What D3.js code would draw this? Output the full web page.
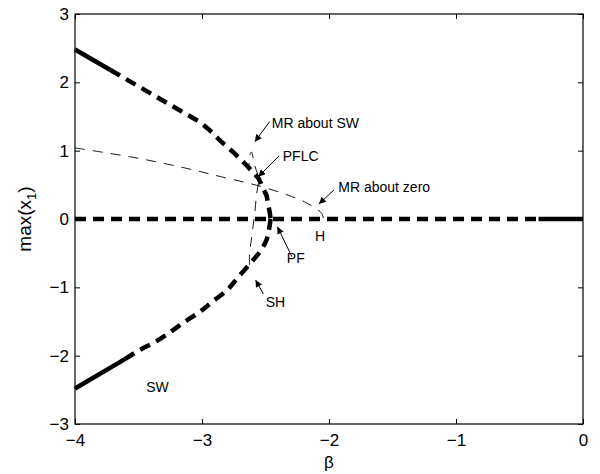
<!DOCTYPE html>
<html>
<head>
<meta charset="utf-8">
<script src="https://cdn.jsdelivr.net/npm/d3@7"></script>
<style>
  body { margin: 0; background: #fff; }
  svg text { font-family: "Liberation Sans", Arial, sans-serif; fill: #000; }
</style>
</head>
<body>
<div id="chart"></div>
<script>
// bifurcation branches, [beta, max(x1)]
var swUpperSolid = [[-4, 2.48], [-3.721, 2.18]];
var swUpperDashed = [[-3.721, 2.18], [-3.018, 1.42], [-2.946, 1.31], [-2.853, 1.14], [-2.750, 0.97],
                     [-2.646, 0.78], [-2.553, 0.59], [-2.491, 0.34], [-2.466, 0.09], [-2.460, 0]];
var swLowerSolid = [[-4, -2.48], [-3.607, -2.05]];
var swLowerDashed = [[-3.607, -2.05], [-3.494, -1.92], [-3.370, -1.80], [-3.246, -1.65], [-3.132, -1.50],
                     [-3.018, -1.36], [-2.925, -1.22], [-2.791, -1.02], [-2.719, -0.86], [-2.615, -0.64],
                     [-2.533, -0.45], [-2.491, -0.30], [-2.471, -0.14], [-2.460, 0]];
var zeroDashed = [[-4, 0], [-0.35, 0]];
var zeroSolid = [[-0.35, 0], [0, 0]];
var mrZero = [[-4, 1.04], [-3.535, 0.9], [-3.142, 0.75], [-2.853, 0.62], [-2.543, 0.48], [-2.295, 0.33],
              [-2.192, 0.25], [-2.099, 0.15], [-2.057, 0.08], [-2.042, 0]];
var mrSW = [[-2.626, -0.67], [-2.626, -0.51], [-2.610, -0.28], [-2.584, 0.10], [-2.569, 0.38], [-2.553, 0.59],
            [-2.574, 0.72], [-2.590, 0.82], [-2.600, 0.92], [-2.610, 0.98], [-2.621, 0.95],
            [-2.628, 0.85], [-2.631, 0.75]];

var xTicks = [-4, -3, -2, -1, 0];
var yTicks = [-3, -2, -1, 0, 1, 2, 3];

// labels: text, anchor point, arrow tail, arrow head (data units)
var notes = [
  { text: "MR about SW", at: [-2.45, 1.33], from: [-2.468, 1.424], to: [-2.584, 1.131] },
  { text: "PFLC", at: [-2.364, 0.849], from: [-2.393, 0.922], to: [-2.557, 0.619] },
  { text: "MR about zero", at: [-1.927, 0.402], from: [-1.961, 0.424], to: [-2.080, 0.219] },
  { text: "H", at: [-2.070, -0.322], mid: true },
  { text: "PF", at: [-2.332, -0.644], from: [-2.292, -0.552], to: [-2.406, -0.113] },
  { text: "SH", at: [-2.499, -1.281], from: [-2.517, -1.098], to: [-2.578, -0.893] },
  { text: "SW", at: [-3.439, -2.532] }
];

var svg = d3.select("#chart")
            .append("svg")
            .attr("width", 600)
            .attr("height", 474);

var x = d3.scaleLinear().domain([-4, 0]).range([75, 583]);
var y = d3.scaleLinear().domain([-3, 3]).range([424, 14]);

var line = d3.line()
             .x(d => x(d[0]))
             .y(d => y(d[1]));
var smooth = d3.line()
               .x(d => x(d[0]))
               .y(d => y(d[1]))
               .curve(d3.curveCatmullRom.alpha(0.5));

svg.append("defs").append("marker")
   .attr("id", "head")
   .attr("viewBox", "0 0 10 10")
   .attr("refX", 10)
   .attr("refY", 5)
   .attr("markerWidth", 9)
   .attr("markerHeight", 7)
   .attr("markerUnits", "userSpaceOnUse")
   .attr("orient", "auto")
   .append("path")
   .attr("d", "M0,0L10,5L0,10Z")
   .attr("fill", "#000");

// thin dashed curves
[mrZero, mrSW].forEach(function (d) {
  svg.append("path")
     .datum(d)
     .attr("fill", "none")
     .attr("stroke", "#000")
     .attr("stroke-width", 0.9)
     .attr("stroke-dasharray", "10,8")
     .attr("d", smooth);
});

// thick branches
[swUpperDashed, swLowerDashed, zeroDashed].forEach(function (d) {
  svg.append("path")
     .datum(d)
     .attr("fill", "none")
     .attr("stroke", "#000")
     .attr("stroke-width", 4.5)
     .attr("stroke-dasharray", "11,7")
     .attr("d", d === swUpperDashed ? line : smooth);
});

[swUpperSolid, swLowerSolid, zeroSolid].forEach(function (d) {
  svg.append("path")
     .datum(d)
     .attr("fill", "none")
     .attr("stroke", "#000")
     .attr("stroke-width", 4.5)
     .attr("d", line);
});

// frame + ticks
svg.append("rect")
   .attr("x", x(-4)).attr("y", y(3))
   .attr("width", x(0) - x(-4)).attr("height", y(-3) - y(3))
   .attr("fill", "none").attr("stroke", "#000").attr("stroke-width", 1.2);

svg.append("g")
   .attr("transform", `translate(0, ${y(-3)})`)
   .call(d3.axisBottom(x).tickValues(xTicks).tickSize(-5).tickPadding(10)
           .tickFormat(d => d < 0 ? "\u2212" + Math.abs(d) : d))
   .call(g => g.select(".domain").remove())
   .call(g => g.selectAll("text").attr("font-size", 17).attr("font-family", null));

svg.append("g")
   .attr("transform", `translate(0, ${y(3)})`)
   .call(d3.axisTop(x).tickValues(xTicks).tickSize(-5).tickFormat(""))
   .call(g => g.select(".domain").remove());

svg.append("g")
   .attr("transform", `translate(${x(-4)}, 0)`)
   .call(d3.axisLeft(y).tickValues(yTicks).tickSize(-5).tickPadding(6)
           .tickFormat(d => d < 0 ? "\u2212" + Math.abs(d) : d))
   .call(g => g.select(".domain").remove())
   .call(g => g.selectAll("text").attr("font-size", 17).attr("font-family", null));

svg.append("g")
   .attr("transform", `translate(${x(0)}, 0)`)
   .call(d3.axisRight(y).tickValues(yTicks).tickSize(-5).tickFormat(""))
   .call(g => g.select(".domain").remove());

// axis labels
svg.append("text")
   .attr("x", (x(-4) + x(0)) / 2)
   .attr("y", 468)
   .attr("text-anchor", "middle")
   .attr("font-size", 17)
   .text("\u03b2");

var yl = svg.append("text")
   .attr("transform", `translate(31, ${(y(3) + y(-3)) / 2}) rotate(-90)`)
   .attr("text-anchor", "middle")
   .attr("font-size", 19);
yl.append("tspan").text("max(x");
yl.append("tspan").attr("font-size", 13).attr("dy", 5).text("1");
yl.append("tspan").attr("dy", -5).text(")");

// annotations
notes.forEach(function (n) {
  if (n.from) {
    svg.append("line")
       .attr("x1", x(n.from[0])).attr("y1", y(n.from[1]))
       .attr("x2", x(n.to[0])).attr("y2", y(n.to[1]))
       .attr("stroke", "#000").attr("stroke-width", 1)
       .attr("marker-end", "url(#head)");
  }
  svg.append("text")
     .attr("x", x(n.at[0]))
     .attr("y", y(n.at[1]))
     .attr("text-anchor", n.mid ? "middle" : "start")
     .attr("font-size", 14)
     .text(n.text);
});
</script>
</body>
</html>
